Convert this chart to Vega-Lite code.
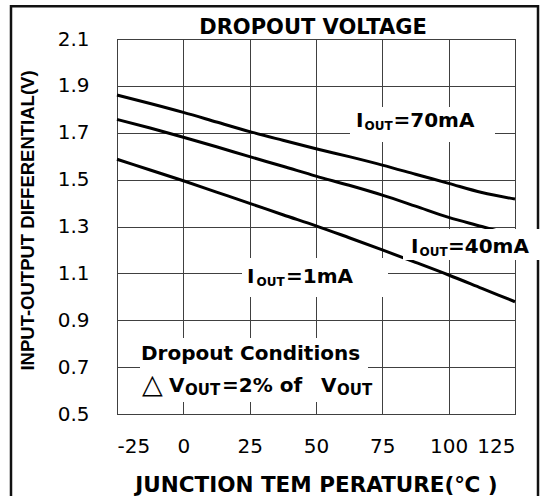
{
  "$schema": "https://vega.github.io/schema/vega-lite/v6.json",
  "width": 398,
  "height": 375,
  "autosize": {"type": "none"},
  "padding": {"left": 117, "top": 39, "right": 27, "bottom": 82},
  "background": "white",
  "title": {"text": "DROPOUT VOLTAGE", "font": "DejaVu Sans", "fontSize": 21, "fontWeight": "bold", "color": "black", "anchor": "middle", "frame": "group", "baseline": "alphabetic", "offset": -50, "dx": -3},
  "config": {
    "view": {"stroke": "black", "strokeWidth": 1},
    "axis": {"grid": true, "gridColor": "#404040", "gridWidth": 1, "ticks": false, "domain": false, "labelFont": "DejaVu Sans", "labelFontSize": 20, "labelColor": "black", "titleColor": "black"}
  },
  "datasets": {
    "curves": [
      {"series": "70mA", "T": -25, "V": 1.861}, {"series": "70mA", "T": -12.5, "V": 1.825}, {"series": "70mA", "T": 0, "V": 1.787}, {"series": "70mA", "T": 12.5, "V": 1.746}, {"series": "70mA", "T": 25, "V": 1.705}, {"series": "70mA", "T": 37.5, "V": 1.668}, {"series": "70mA", "T": 50, "V": 1.632}, {"series": "70mA", "T": 62.5, "V": 1.598}, {"series": "70mA", "T": 75, "V": 1.562}, {"series": "70mA", "T": 87.5, "V": 1.523}, {"series": "70mA", "T": 100, "V": 1.484}, {"series": "70mA", "T": 112.5, "V": 1.445}, {"series": "70mA", "T": 125, "V": 1.417},
      {"series": "40mA", "T": -25, "V": 1.757}, {"series": "40mA", "T": -12.5, "V": 1.72}, {"series": "40mA", "T": 0, "V": 1.681}, {"series": "40mA", "T": 12.5, "V": 1.64}, {"series": "40mA", "T": 25, "V": 1.598}, {"series": "40mA", "T": 37.5, "V": 1.557}, {"series": "40mA", "T": 50, "V": 1.515}, {"series": "40mA", "T": 62.5, "V": 1.476}, {"series": "40mA", "T": 75, "V": 1.434}, {"series": "40mA", "T": 87.5, "V": 1.387}, {"series": "40mA", "T": 100, "V": 1.339}, {"series": "40mA", "T": 112.5, "V": 1.3}, {"series": "40mA", "T": 125, "V": 1.26},
      {"series": "1mA", "T": -25, "V": 1.587}, {"series": "1mA", "T": -12.5, "V": 1.541}, {"series": "1mA", "T": 0, "V": 1.495}, {"series": "1mA", "T": 12.5, "V": 1.447}, {"series": "1mA", "T": 25, "V": 1.399}, {"series": "1mA", "T": 37.5, "V": 1.35}, {"series": "1mA", "T": 50, "V": 1.303}, {"series": "1mA", "T": 62.5, "V": 1.252}, {"series": "1mA", "T": 75, "V": 1.2}, {"series": "1mA", "T": 87.5, "V": 1.147}, {"series": "1mA", "T": 100, "V": 1.093}, {"series": "1mA", "T": 112.5, "V": 1.036}, {"series": "1mA", "T": 125, "V": 0.979}
    ],
    "boxes": [
      {"t0": 62.81, "t1": 117.46, "v0": 1.8099, "v1": 1.6605},
      {"t0": 82.79, "t1": 135.5, "v0": 1.2893, "v1": 1.1571},
      {"t0": 22.11, "t1": 77.14, "v0": 1.1656, "v1": 0.9992},
      {"t0": -16.33, "t1": 69.6, "v0": 0.8243, "v1": 0.5512}
    ],
    "main": [
      {"label": "I", "T": 65.08, "V": 1.7245},
      {"label": "=70mA", "T": 79.21, "V": 1.7245},
      {"label": "I", "T": 85.8, "V": 1.1869},
      {"label": "=40mA", "T": 99.75, "V": 1.1869},
      {"label": "I", "T": 23.99, "V": 1.0589},
      {"label": "=1mA", "T": 38.69, "V": 1.0589},
      {"label": "Dropout Conditions", "T": -15.95, "V": 0.7304},
      {"label": "V", "T": -5.4, "V": 0.5939},
      {"label": "=2% of", "T": 14.57, "V": 0.5939},
      {"label": "V", "T": 51.9, "V": 0.5939}
    ],
    "subs": [
      {"label": "OUT", "T": 68.28, "V": 1.7117},
      {"label": "OUT", "T": 89.01, "V": 1.1741},
      {"label": "OUT", "T": 27.58, "V": 1.0461}
    ],
    "subs2": [
      {"label": "OUT", "T": 0.63, "V": 0.5811},
      {"label": "OUT", "T": 57.9, "V": 0.5811}
    ],
    "delta": [
      {"label": "△", "T": -15.6, "V": 0.5905}
    ]
  },
  "layer": [
    {
      "data": {"name": "curves"},
      "mark": {"type": "line", "color": "black", "strokeWidth": 3, "interpolate": "monotone"},
      "encoding": {
        "x": {"field": "T", "type": "quantitative", "scale": {"domain": [-25, 125], "nice": false, "zero": false},
          "axis": {"values": [-25, 0, 25, 50, 75, 100, 125], "labelExpr": "'' + datum.value", "labelPadding": 22, "labelBaseline": "top",
            "title": "JUNCTION TEM PERATURE(℃ )", "titleFont": "DejaVu Sans", "titleFontSize": 21.5, "titleFontWeight": "bold", "titleBaseline": "alphabetic", "titleY": 77, "titleX": 199, "titleAlign": "center"}},
        "y": {"field": "V", "type": "quantitative", "scale": {"domain": [0.5, 2.1], "nice": false, "zero": false},
          "axis": {"values": [0.5, 0.7, 0.9, 1.1, 1.3, 1.5, 1.7, 1.9, 2.1], "format": ".1f", "labelPadding": 28, "labelBaseline": "middle",
            "title": "INPUT-OUTPUT DIFFERENTIAL(V)", "titleFont": "Liberation Sans", "titleFontSize": 18.5, "titleFontWeight": "bold", "titleAngle": -90, "titleBaseline": "alphabetic", "titleAlign": "center", "titleX": -84, "titleY": 181}},
        "detail": {"field": "series"}
      }
    },
    {
      "data": {"values": [{}]},
      "mark": {"type": "rect", "fill": "transparent", "stroke": "#111", "strokeWidth": 2.5},
      "encoding": {
        "x": {"datum": -64.95, "type": "quantitative"},
        "x2": {"datum": 133.67},
        "y": {"datum": 2.24, "type": "quantitative"},
        "y2": {"datum": 0.112}
      }
    },
    {
      "data": {"name": "boxes"},
      "mark": {"type": "rect", "fill": "white", "stroke": null},
      "encoding": {
        "x": {"field": "t0", "type": "quantitative"},
        "x2": {"field": "t1"},
        "y": {"field": "v0", "type": "quantitative"},
        "y2": {"field": "v1"}
      }
    },
    {
      "data": {"name": "main"},
      "mark": {"type": "text", "font": "DejaVu Sans", "fontSize": 20, "fontWeight": "bold", "color": "black", "align": "left", "baseline": "alphabetic"},
      "encoding": {
        "x": {"field": "T", "type": "quantitative"},
        "y": {"field": "V", "type": "quantitative"},
        "text": {"field": "label"}
      }
    },
    {
      "data": {"name": "subs"},
      "mark": {"type": "text", "font": "DejaVu Sans", "fontSize": 12, "fontWeight": "bold", "color": "black", "align": "left", "baseline": "alphabetic"},
      "encoding": {
        "x": {"field": "T", "type": "quantitative"},
        "y": {"field": "V", "type": "quantitative"},
        "text": {"field": "label"}
      }
    },
    {
      "data": {"name": "subs2"},
      "mark": {"type": "text", "font": "DejaVu Sans", "fontSize": 15, "fontWeight": "bold", "color": "black", "align": "left", "baseline": "alphabetic"},
      "encoding": {
        "x": {"field": "T", "type": "quantitative"},
        "y": {"field": "V", "type": "quantitative"},
        "text": {"field": "label"}
      }
    },
    {
      "data": {"name": "delta"},
      "mark": {"type": "text", "font": "DejaVu Sans", "fontSize": 27, "color": "black", "align": "left", "baseline": "alphabetic"},
      "encoding": {
        "x": {"field": "T", "type": "quantitative"},
        "y": {"field": "V", "type": "quantitative"},
        "text": {"field": "label"}
      }
    }
  ]
}
